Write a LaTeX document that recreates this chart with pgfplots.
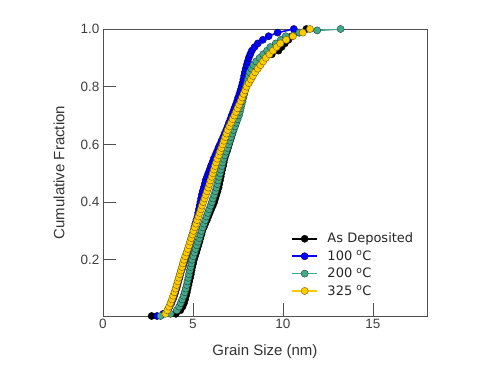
\documentclass[border=0pt]{standalone}
\usepackage{pgfplots}
\pgfplotsset{compat=1.18}
\usepackage{fontspec}
\setmainfont{Liberation Sans}
\newfontfamily\legfont{DejaVu Sans}
\newcommand\lf{\legfont\fontsize{13}{15}\selectfont}
\definecolor{cblue}{RGB}{0,0,255}
\definecolor{cgreen}{RGB}{70,168,138}
\definecolor{cyellow}{RGB}{255,204,0}
\definecolor{frame}{RGB}{80,80,80}
\begin{document}
\begin{tikzpicture}
\useasboundingbox (-103pt,-61pt) rectangle (387pt,316pt);
\begin{axis}[
  at={(0pt,0pt)}, anchor=south west,
  scale only axis, width=324pt, height=287pt,
  xmin=0, xmax=18, ymin=0.005, ymax=1,
  xtick={0,5,10,15}, ytick={0.2,0.4,0.6,0.8,1.0},
  xtick pos=bottom, ytick pos=left,
  tick align=inside,
  major tick length=13pt,
  tick style={frame, line width=0.6pt},
  axis line style={frame, line width=0.8pt},
  /pgf/number format/assume math mode=true,
  yticklabel style={/pgf/number format/fixed, /pgf/number format/precision=1, /pgf/number format/fixed zerofill},
  tick label style={font=\fontsize{13.5}{16}\selectfont, text=black!75},
  label style={font=\fontsize{15}{18}\selectfont, text=black!80},
  xlabel={Grain Size (nm)}, ylabel={Cumulative Fraction},
  xlabel style={at={(axis description cs:0.5,-0.125)}, anchor=center},
  ylabel style={at={(axis description cs:-0.136,0.5)}, anchor=center},
  legend style={draw=none, fill=none, at={(0.972,0.055)}, anchor=south east,
    row sep=3.2pt, text=black!85, nodes={inner sep=1.5pt},
    /tikz/every odd column/.append style={column sep=8pt}},
  legend cell align=left,
  legend image code/.code={\draw[mark repeat=2,mark phase=2,#1] plot coordinates {(0pt,0pt) (12.5pt,0pt) (25pt,0pt)};},
  every axis plot/.append style={line width=1.6pt, mark=*, mark size=3.6pt},
]
\addplot[color=black, mark options={fill=black, draw=black, line width=0.4pt}] table {
2.7 0.005
4.05 0.0125
4.3 0.025
4.42 0.0375
4.5 0.05
4.56 0.0625
4.61 0.075
4.66 0.0875
4.7 0.1
4.75 0.1125
4.79 0.125
4.84 0.1375
4.88 0.15
4.92 0.1625
4.96 0.175
5.01 0.1875
5.05 0.2
5.11 0.2125
5.18 0.225
5.24 0.2375
5.3 0.25
5.36 0.2625
5.41 0.275
5.47 0.2875
5.52 0.3
5.6 0.3125
5.68 0.325
5.77 0.3375
5.85 0.35
5.93 0.3625
6.01 0.375
6.1 0.3875
6.18 0.4
6.24 0.4125
6.3 0.425
6.36 0.4375
6.42 0.45
6.46 0.4625
6.5 0.475
6.54 0.4875
6.58 0.5
6.62 0.5125
6.67 0.525
6.71 0.5375
6.75 0.55
6.81 0.5625
6.88 0.575
6.94 0.5875
7.0 0.6
7.06 0.6125
7.13 0.625
7.19 0.6375
7.25 0.65
7.31 0.6625
7.38 0.675
7.44 0.6875
7.5 0.7
7.55 0.7125
7.6 0.725
7.65 0.7375
7.7 0.75
7.75 0.7625
7.8 0.775
7.85 0.7875
7.9 0.8
7.98 0.8125
8.05 0.825
8.13 0.8375
8.2 0.85
8.37 0.8625
8.55 0.875
8.78 0.8875
9.0 0.9
9.38 0.9125
9.75 0.925
9.92 0.9375
10.1 0.95
10.3 0.9625
10.5 0.975
10.9 0.9875
11.3 1.0
};
\addlegendentry{\lf As Deposited}
\addplot[color=cblue, mark options={fill=cblue, draw=black!70!cblue, line width=0.4pt}] table {
3.0 0.005
3.35 0.0125
3.6 0.025
3.7 0.0375
3.8 0.05
3.88 0.0625
3.95 0.075
4.02 0.0875
4.08 0.1
4.14 0.1125
4.19 0.125
4.25 0.1375
4.3 0.15
4.36 0.1625
4.43 0.175
4.49 0.1875
4.55 0.2
4.61 0.2125
4.68 0.225
4.74 0.2375
4.8 0.25
4.86 0.2625
4.91 0.275
4.97 0.2875
5.03 0.3
5.08 0.3125
5.13 0.325
5.19 0.3375
5.25 0.35
5.29 0.3625
5.33 0.375
5.37 0.3875
5.41 0.4
5.45 0.4125
5.49 0.425
5.54 0.4375
5.6 0.45
5.65 0.4625
5.7 0.475
5.78 0.4875
5.85 0.5
5.93 0.5125
6.0 0.525
6.08 0.5375
6.15 0.55
6.24 0.5625
6.33 0.575
6.41 0.5875
6.5 0.6
6.59 0.6125
6.68 0.625
6.76 0.6375
6.85 0.65
6.93 0.6625
7.0 0.675
7.08 0.6875
7.15 0.7
7.23 0.7125
7.3 0.725
7.38 0.7375
7.45 0.75
7.51 0.7625
7.58 0.775
7.64 0.7875
7.7 0.8
7.75 0.8125
7.8 0.825
7.84 0.8375
7.88 0.85
7.93 0.8625
7.98 0.875
8.04 0.8875
8.1 0.9
8.18 0.9125
8.27 0.925
8.42 0.9375
8.6 0.95
8.88 0.9625
9.2 0.975
9.7 0.9875
10.6 1.0
};
\addlegendentry{\lf 100 \textsuperscript{o}C}
\addplot[color=cgreen, mark options={fill=cgreen, draw=black!60!cgreen, line width=0.4pt}] table {
3.2 0.005
3.75 0.0125
4.1 0.025
4.23 0.0375
4.32 0.05
4.4 0.0625
4.48 0.075
4.54 0.0875
4.6 0.1
4.65 0.1125
4.69 0.125
4.74 0.1375
4.78 0.15
4.82 0.1625
4.87 0.175
4.91 0.1875
4.95 0.2
5.02 0.2125
5.09 0.225
5.15 0.2375
5.22 0.25
5.28 0.2625
5.35 0.275
5.41 0.2875
5.47 0.3
5.54 0.3125
5.61 0.325
5.68 0.3375
5.75 0.35
5.83 0.3625
5.9 0.375
5.98 0.3875
6.05 0.4
6.11 0.4125
6.18 0.425
6.24 0.4375
6.3 0.45
6.35 0.4625
6.4 0.475
6.45 0.4875
6.5 0.5
6.55 0.5125
6.6 0.525
6.65 0.5375
6.7 0.55
6.77 0.5625
6.84 0.575
6.91 0.5875
6.98 0.6
7.05 0.6125
7.11 0.625
7.18 0.6375
7.25 0.65
7.33 0.6625
7.4 0.675
7.48 0.6875
7.55 0.7
7.6 0.7125
7.65 0.725
7.7 0.7375
7.75 0.75
7.8 0.7625
7.85 0.775
7.9 0.7875
7.95 0.8
8.0 0.8125
8.05 0.825
8.1 0.8375
8.15 0.85
8.25 0.8625
8.36 0.875
8.51 0.8875
8.7 0.9
8.9 0.9125
9.12 0.925
9.3 0.9375
9.6 0.95
9.88 0.9625
10.15 0.975
10.9 0.9875
11.9 0.995
13.2 1.0
};
\addlegendentry{\lf 200 \textsuperscript{o}C}
\addplot[color=cyellow, mark options={fill=cyellow, draw=black!55!cyellow, line width=0.4pt}] table {
3.47 0.0125
3.58 0.025
3.67 0.0375
3.75 0.05
3.83 0.0625
3.9 0.075
3.97 0.0875
4.03 0.1
4.09 0.1125
4.15 0.125
4.21 0.1375
4.27 0.15
4.33 0.1625
4.39 0.175
4.44 0.1875
4.5 0.2
4.57 0.2125
4.64 0.225
4.71 0.2375
4.78 0.25
4.84 0.2625
4.9 0.275
4.97 0.2875
5.03 0.3
5.1 0.3125
5.17 0.325
5.23 0.3375
5.3 0.35
5.37 0.3625
5.44 0.375
5.5 0.3875
5.57 0.4
5.64 0.4125
5.71 0.425
5.78 0.4375
5.85 0.45
5.91 0.4625
5.97 0.475
6.04 0.4875
6.1 0.5
6.16 0.5125
6.22 0.525
6.29 0.5375
6.35 0.55
6.43 0.5625
6.5 0.575
6.58 0.5875
6.65 0.6
6.72 0.6125
6.79 0.625
6.86 0.6375
6.93 0.65
7.02 0.6625
7.11 0.675
7.2 0.6875
7.3 0.7
7.39 0.7125
7.47 0.725
7.56 0.7375
7.65 0.75
7.73 0.7625
7.81 0.775
7.9 0.7875
7.98 0.8
8.1 0.8125
8.22 0.825
8.33 0.8375
8.45 0.85
8.6 0.8625
8.75 0.875
8.9 0.8875
9.05 0.9
9.25 0.9125
9.45 0.925
9.65 0.9375
9.85 0.95
10.18 0.9625
10.55 0.975
11.1 0.9875
11.5 1.0
};
\addlegendentry{\lf 325 \textsuperscript{o}C}
\end{axis}
\end{tikzpicture}
\end{document}
